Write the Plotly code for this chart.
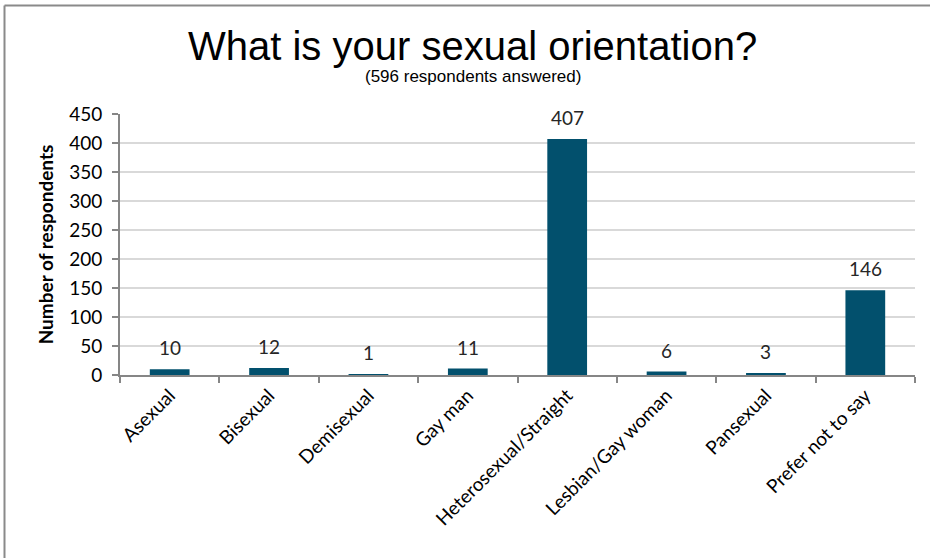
import plotly.graph_objects as go

# Survey responses by orientation
categories = ["Asexual", "Bisexual", "Demisexual", "Gay man",
              "Heterosexual/Straight", "Lesbian/Gay woman", "Pansexual",
              "Prefer not to say"]
respondents = [10, 12, 1, 11, 407, 6, 3, 146]
y_ticks = [0, 50, 100, 150, 200, 250, 300, 350, 400, 450]

W, H = 930, 558
ML, MR, MT, MB = 120, 15, 114, 183
pw, ph = W - ML - MR, H - MT - MB

BAR = "#02506d"
AXIS = "#868686"
GRID = "#d9d9d9"
LABEL_FONT = "Lato, Carlito, Calibri, sans-serif"
TITLE_FONT = "Liberation Sans Narrow, Arial Narrow, Liberation Sans, Arial, sans-serif"

fig = go.Figure(go.Bar(
    x=categories, y=respondents, marker=dict(color=BAR, line=dict(width=0)),
    width=0.4, hoverinfo="x+y",
))

# value labels above each bar
for c, v in zip(categories, respondents):
    fig.add_annotation(x=c, y=v, text=str(v), showarrow=False,
                       yanchor="bottom", yshift=8,
                       font=dict(family=LABEL_FONT, size=19, color="#262626"))

def px_to_paper_x(px):
    return (px - ML) / pw

def px_to_paper_y(py):
    return (H - MB - py) / ph

# outer frame (top and left edges)
fig.add_shape(type="line", xref="paper", yref="paper",
              x0=px_to_paper_x(4.5), x1=px_to_paper_x(W + 5),
              y0=px_to_paper_y(5.5), y1=px_to_paper_y(5.5),
              line=dict(color="#8a8a8a", width=2))
fig.add_shape(type="line", xref="paper", yref="paper",
              x0=px_to_paper_x(4.5), x1=px_to_paper_x(4.5),
              y0=px_to_paper_y(5.5), y1=px_to_paper_y(H + 5),
              line=dict(color="#8a8a8a", width=2))

fig.add_annotation(xref="paper", yref="paper", x=px_to_paper_x(472),
                   y=px_to_paper_y(46), text="What is your sexual orientation?",
                   showarrow=False, xanchor="center", yanchor="middle",
                   font=dict(family=TITLE_FONT, size=40, color="#000000"))
fig.add_annotation(xref="paper", yref="paper", x=px_to_paper_x(473),
                   y=px_to_paper_y(76), text="(596 respondents answered)",
                   showarrow=False, xanchor="center", yanchor="middle",
                   font=dict(family=TITLE_FONT, size=17, color="#000000"))

fig.update_layout(
    width=W, height=H,
    margin=dict(l=ML, r=MR, t=MT, b=MB, autoexpand=False),
    paper_bgcolor="white", plot_bgcolor="white",
    showlegend=False, bargap=0.6,
    font=dict(family=LABEL_FONT, color="#000000"),
    xaxis=dict(
        tickangle=-45, tickfont=dict(family=LABEL_FONT, size=19, color="#000000"),
        showline=True, linecolor=AXIS, linewidth=2,
        ticks="outside", ticklen=6, tickcolor=AXIS, tickwidth=2,
        tickson="boundaries", showgrid=False,
    ),
    yaxis=dict(
        range=[0, 450], tickvals=y_ticks,
        tickfont=dict(family=LABEL_FONT, size=19, color="#000000"),
        ticklabelstandoff=6,
        showline=True, linecolor=AXIS, linewidth=2,
        ticks="outside", ticklen=6, tickcolor=AXIS, tickwidth=2,
        showgrid=True, gridcolor=GRID, gridwidth=2, zeroline=False,
        title=dict(text="<b>Number of respondents</b>", standoff=10,
                   font=dict(family=LABEL_FONT, size=19, color="#000000")),
    ),
)

fig.write_html("out.html")
